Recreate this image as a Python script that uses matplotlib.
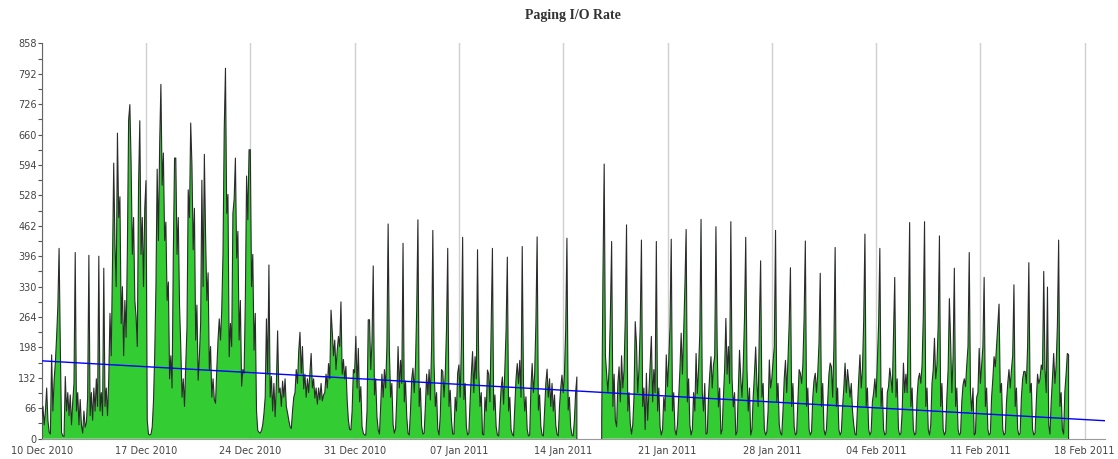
import numpy as np
import pandas as pd
import matplotlib
matplotlib.use("Agg")
import matplotlib.pyplot as plt
import matplotlib.dates as mdates

# Paging I/O rate, 2-hour samples (00h, 02h, ... 22h), one row per day.
dec_rate = [  # 10 Dec .. 31 Dec 2010
    [42, 70, 30, 60, 110, 40, 14, 10, 182, 60, 127, 165],
    [221, 287, 413, 200, 13, 6, 5, 135, 60, 100, 50, 95],
    [30, 80, 120, 404, 60, 100, 30, 85, 30, 12, 60, 25],
    [35, 90, 398, 50, 100, 40, 110, 60, 130, 70, 396, 60],
    [100, 50, 370, 70, 110, 50, 130, 272, 180, 380, 598, 420],
    [330, 663, 480, 525, 250, 330, 180, 300, 220, 410, 692, 725],
    [600, 400, 480, 300, 265, 200, 550, 690, 400, 480, 330, 500],
    [560, 40, 10, 8, 10, 25, 80, 180, 330, 585, 430, 640],
    [769, 550, 620, 430, 470, 300, 340, 130, 180, 110, 400, 609],
    [609, 400, 480, 290, 200, 90, 130, 70, 160, 240, 540, 480],
    [685, 594, 410, 500, 214, 290, 127, 180, 250, 561, 330, 617],
    [438, 300, 360, 150, 200, 90, 130, 85, 77, 150, 214, 260],
    [214, 280, 400, 670, 804, 489, 530, 178, 250, 200, 489, 520],
    [609, 392, 450, 214, 300, 114, 150, 142, 300, 570, 475, 627],
    [627, 330, 400, 192, 272, 60, 18, 14, 12, 18, 30, 55],
    [90, 260, 140, 377, 90, 135, 60, 120, 48, 120, 234, 100],
    [110, 70, 125, 90, 130, 70, 56, 40, 26, 22, 60, 90],
    [100, 150, 120, 190, 231, 142, 200, 108, 140, 90, 130, 100],
    [142, 185, 110, 130, 88, 110, 75, 110, 85, 120, 82, 95],
    [100, 140, 110, 163, 130, 279, 233, 180, 214, 150, 192, 222],
    [200, 297, 140, 172, 130, 157, 84, 40, 20, 19, 60, 150],
    [143, 222, 110, 196, 80, 113, 26, 12, 8, 8, 60, 258],
]

jan_rate = [  # 01 Jan .. 31 Jan 2011 (no samples 15 Jan .. 16 Jan midday)
    [258, 150, 210, 375, 95, 130, 48, 19, 10, 70, 140, 90],
    [150, 110, 200, 466, 190, 90, 120, 30, 12, 22, 90, 200],
    [110, 170, 120, 424, 80, 125, 48, 12, 8, 60, 130, 153],
    [100, 160, 279, 475, 70, 110, 27, 10, 12, 70, 140, 95],
    [150, 84, 200, 452, 160, 70, 100, 20, 8, 50, 150, 146],
    [90, 140, 236, 413, 70, 105, 40, 10, 10, 90, 60, 142],
    [160, 90, 200, 437, 85, 120, 26, 8, 12, 80, 140, 189],
    [100, 178, 130, 410, 150, 70, 100, 10, 8, 90, 60, 149],
    [140, 80, 240, 413, 62, 95, 26, 8, 6, 60, 110, 134],
    [75, 150, 236, 394, 60, 90, 20, 10, 6, 70, 130, 163],
    [120, 170, 90, 417, 120, 60, 91, 20, 6, 8, 110, 163],
    [100, 140, 250, 438, 62, 95, 26, 8, 6, 60, 120, 151],
    [90, 130, 70, 120, 60, 95, 30, 10, 6, 70, 110, 138],
    [100, 140, 236, 435, 62, 90, 26, 8, 6, 40, 100, 134],
    [None] * 12,
    [None] * 7 + [40, 351, 596, 180, 140],
    [100, 156, 271, 428, 70, 140, 40, 26, 120, 156, 80, 180],
    [110, 149, 261, 464, 60, 100, 33, 10, 30, 90, 254, 207],
    [100, 150, 243, 431, 70, 110, 20, 142, 40, 98, 160, 222],
    [80, 150, 100, 428, 60, 110, 26, 8, 20, 90, 60, 182],
    [113, 170, 243, 433, 60, 100, 19, 8, 30, 90, 150, 229],
    [140, 229, 330, 454, 80, 130, 30, 8, 20, 100, 60, 185],
    [98, 150, 229, 476, 100, 60, 120, 10, 12, 90, 140, 178],
    [110, 160, 178, 460, 200, 69, 110, 10, 20, 90, 150, 261],
    [140, 200, 120, 471, 130, 69, 100, 8, 15, 100, 192, 130],
    [90, 160, 261, 437, 150, 60, 110, 8, 20, 90, 140, 199],
    [120, 70, 249, 386, 90, 120, 20, 8, 15, 60, 171, 110],
    [130, 167, 200, 452, 80, 120, 30, 12, 8, 60, 130, 170],
    [100, 171, 250, 371, 70, 120, 26, 8, 12, 80, 150, 142],
    [120, 160, 261, 429, 70, 110, 20, 8, 15, 90, 127, 142],
    [100, 142, 207, 359, 70, 120, 20, 8, 20, 80, 140, 164],
]

feb_rate = [  # 01 Feb .. 16 Feb 2011
    [156, 90, 200, 415, 70, 110, 20, 8, 15, 70, 110, 164],
    [100, 150, 122, 90, 120, 60, 30, 10, 8, 70, 130, 182],
    [110, 150, 257, 444, 70, 110, 20, 8, 15, 80, 100, 130],
    [90, 172, 247, 413, 70, 110, 20, 8, 12, 100, 113, 153],
    [130, 100, 229, 350, 90, 130, 20, 8, 12, 60, 164, 100],
    [140, 100, 257, 469, 70, 110, 20, 8, 12, 90, 130, 142],
    [120, 160, 265, 471, 70, 110, 20, 8, 30, 120, 150, 218],
    [130, 160, 247, 440, 70, 120, 20, 8, 15, 90, 150, 304],
    [211, 100, 180, 370, 70, 110, 20, 8, 12, 80, 117, 130],
    [113, 160, 200, 404, 100, 60, 110, 8, 12, 90, 100, 196],
    [120, 160, 200, 350, 70, 110, 20, 8, 12, 90, 130, 178],
    [156, 200, 247, 292, 100, 120, 20, 8, 12, 80, 120, 150],
    [110, 150, 180, 334, 70, 110, 20, 8, 12, 90, 130, 146],
    [146, 120, 200, 382, 100, 120, 20, 8, 12, 80, 140, 120],
    [130, 160, 150, 363, 150, 100, 329, 30, 10, 80, 130, 185],
    [120, 160, 247, 431, 70, 100, 20, 10, 102, 140, 185, 182],
]

series_start = "2010-12-10"
sample_step = "2h"

# linear trend of the whole period, value at the left and right edge of the axis
trend_start = 169
trend_end = 39

y_ticks = list(range(0, 859, 66))
x_tick_dates = ["2010-12-10", "2010-12-17", "2010-12-24", "2010-12-31",
                "2011-01-07", "2011-01-14", "2011-01-21", "2011-01-28",
                "2011-02-04", "2011-02-11", "2011-02-18"]
x_range = ("2010-12-10 00:00", "2011-02-19 08:40")

# ---------------------------------------------------------------------------
values = np.array([np.nan if v is None else v
                   for day in dec_rate + jan_rate + feb_rate for v in day],
                  dtype=float)
times = pd.date_range(series_start, periods=len(values), freq=sample_step)
x = mdates.date2num(times.to_pydatetime())

# outline of every contiguous run, closed down to zero at both ends
valid = ~np.isnan(values)
edges = np.flatnonzero(np.diff(np.r_[0, valid.astype(int), 0]))
line_x, line_y = [], []
for a, b in zip(edges[::2], edges[1::2]):
    line_x += [x[a]] + list(x[a:b]) + [x[b - 1], np.nan]
    line_y += [0] + list(values[a:b]) + [0, np.nan]

W, H = 1118, 459
fig = plt.figure(figsize=(W / 100, H / 100), dpi=100)
left_px, right_px, top_px, bottom_px = 41.7, 1105, 43.3, 438.7
ax = fig.add_axes([left_px / W, 1 - bottom_px / H,
                   (right_px - left_px) / W, (bottom_px - top_px) / H])

ax.fill_between(x, 0, values, color="#33cc33", linewidth=0, zorder=2)
ax.plot(line_x, line_y, color="#2b2b2b", linewidth=0.8, zorder=3)

x0, x1 = (mdates.date2num(pd.Timestamp(t).to_pydatetime()) for t in x_range)
ax.plot([x0, x1], [trend_start, trend_end], color="#0000ff", linewidth=1.0,
        zorder=4)

ax.set_xlim(x0, x1)
ax.set_ylim(0, 858)

ax.set_yticks(y_ticks)
ax.set_yticks(np.arange(33, 858, 66), minor=True)
ax.set_xticks(mdates.date2num([pd.Timestamp(d).to_pydatetime() for d in x_tick_dates]))
ax.xaxis.set_major_formatter(mdates.DateFormatter("%d %b %Y"))

ax.tick_params(axis="y", which="both", direction="out", length=3, width=0.8,
               color="#555555", labelsize=7, labelcolor="#444444", pad=0.5)
ax.tick_params(axis="x", length=0, labelsize=7, labelcolor="#444444", pad=5)

ax.set_axisbelow(True)
ax.xaxis.grid(True, color="#d0d0d0", linewidth=1)
for side in ("top", "right"):
    ax.spines[side].set_visible(False)
ax.spines["left"].set_color("#666666")
ax.spines["bottom"].set_color("#999999")

fig.text((left_px + right_px) / 2 / W, 1 - 15.5 / H, "Paging I/O Rate",
         ha="center", va="center", fontsize=10, fontweight="bold",
         family="Liberation Serif", color="#333333")

fig.savefig("out.png", dpi=100)
